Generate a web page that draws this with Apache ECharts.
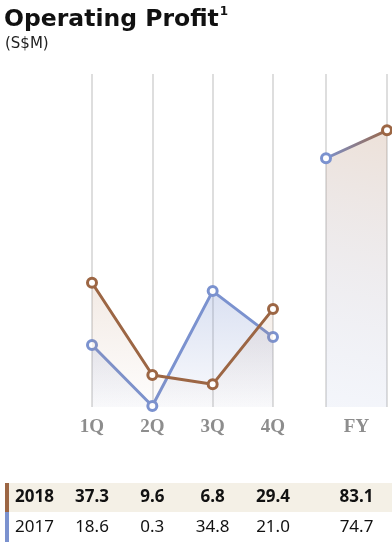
<!DOCTYPE html>
<html><head><meta charset="utf-8">
<script src="https://cdn.jsdelivr.net/npm/echarts@6/dist/echarts.min.js"></script>
<style>html,body{margin:0;padding:0;background:#fff}#c{width:392px;height:542px}</style>
</head><body><div id="c"></div>
<script>
// ---- data ----
const quarters = ['1Q', '2Q', '3Q', '4Q'];
const fyYears = ['2017', '2018'];
const fyLabel = ['FY'];
const profit2018 = [37.3, 9.6, 6.8, 29.4];
const profit2017 = [18.6, 0.3, 34.8, 21.0];
const fyProfit = [74.7, 83.1]; // FY2017, FY2018
const rowLabels = ['2018', '2017'];

const BROWN = '#9c6644';
const BLUE = '#7b92cf';
const GRID = '#d3d3d3';

const chart = echarts.init(document.getElementById('c'), null, {renderer: 'canvas'});

const axisLabelStyle = {
  fontFamily: '"Liberation Serif", "DejaVu Serif", serif',
  fontWeight: 'bold', fontSize: 19, color: '#8d8d8d', margin: 11
};

function marker(color) {
  return {color: '#fff', borderColor: color, borderWidth: 3};
}

const option = {
  animation: false,
  backgroundColor: '#fff',
  grid: [
    {left: 92, width: 181, top: 74, bottom: 135},
    {left: 326, width: 61, top: 74, bottom: 135}
  ],
  xAxis: [
    {type: 'category', gridIndex: 0, data: quarters, boundaryGap: false, position: 'bottom',
      axisLine: {show: false}, axisTick: {show: false},
      axisLabel: axisLabelStyle,
      splitLine: {show: true, lineStyle: {color: GRID, width: 1.5}}},
    {type: 'category', gridIndex: 1, data: fyYears, boundaryGap: false, position: 'bottom',
      axisLine: {show: false}, axisTick: {show: false}, axisLabel: {show: false},
      splitLine: {show: true, lineStyle: {color: GRID, width: 1.5}}},
    {type: 'category', gridIndex: 1, data: fyLabel, boundaryGap: true, position: 'bottom', offset: 0,
      axisLine: {show: false}, axisTick: {show: false},
      axisLabel: axisLabelStyle, splitLine: {show: false}}
  ],
  yAxis: [
    {type: 'value', gridIndex: 0, min: 0, max: 100, show: false},
    {type: 'value', gridIndex: 1, min: 0, max: 100, show: false}
  ],
  series: [
    {name: '2017', type: 'line', xAxisIndex: 0, yAxisIndex: 0, data: profit2017,
      symbol: 'circle', symbolSize: 9, z: 3,
      lineStyle: {color: BLUE, width: 3}, itemStyle: marker(BLUE),
      areaStyle: {color: {type: 'linear', x: 0, y: 0, x2: 0, y2: 1, colorStops: [
        {offset: 0, color: 'rgba(123,146,207,0.40)'},
        {offset: 1, color: 'rgba(123,146,207,0.06)'}]}}},
    {name: '2018', type: 'line', xAxisIndex: 0, yAxisIndex: 0, data: profit2018,
      symbol: 'circle', symbolSize: 9, z: 4,
      lineStyle: {color: BROWN, width: 3}, itemStyle: marker(BROWN),
      areaStyle: {color: {type: 'linear', x: 0, y: 0, x2: 0, y2: 1, colorStops: [
        {offset: 0, color: 'rgba(180,130,95,0.24)'},
        {offset: 1, color: 'rgba(180,130,95,0.02)'}]}}},
    {name: 'FY', type: 'line', xAxisIndex: 1, yAxisIndex: 1,
      data: [
        {value: fyProfit[0], itemStyle: marker(BLUE)},
        {value: fyProfit[1], itemStyle: marker(BROWN)}
      ],
      symbol: 'circle', symbolSize: 9, z: 4,
      lineStyle: {width: 3, color: {type: 'linear', x: 0, y: 0, x2: 1, y2: 0, colorStops: [
        {offset: 0, color: BLUE}, {offset: 1, color: BROWN}]}},
      areaStyle: {color: {type: 'linear', x: 0, y: 1, x2: 1, y2: 0, colorStops: [
        {offset: 0, color: 'rgba(123,146,207,0.12)'},
        {offset: 1, color: 'rgba(180,130,95,0.34)'}]}}}
  ]
};
chart.setOption(option);

// ---- table + title via graphic, columns located through the axes ----
const colX = quarters.map(q => chart.convertToPixel({xAxisIndex: 0}, q));
const fyX = (chart.convertToPixel({xAxisIndex: 1}, fyYears[0]) + chart.convertToPixel({xAxisIndex: 1}, fyYears[1])) / 2;

const rows = [
  {label: rowLabels[0], q: profit2018, fy: fyProfit[1], color: BROWN, bold: true, bg: '#f4f0e6'},
  {label: rowLabels[1], q: profit2017, fy: fyProfit[0], color: BLUE, bold: false, bg: null}
];
const rowTop = [483, 512];
const rowH = [29, 30];
const textFont = '"Noto Sans", "Open Sans", sans-serif';
const titleFont = '"DejaVu Sans", "Noto Sans", sans-serif';

const graphics = [
  {type: 'text', left: 4, top: 6, style: {
    text: '{t|Operating Profit}{s|1}',
    rich: {
      t: {fontFamily: titleFont, fontWeight: 'bold', fontSize: 23.5, fill: '#111', lineHeight: 28},
      s: {fontFamily: titleFont, fontWeight: 'bold', fontSize: 12, fill: '#111', verticalAlign: 'top', lineHeight: 28, padding: [0, 0, 10, 1]}
    }}},
  {type: 'text', left: 5, top: 37, style: {text: '(S$M)', fontFamily: titleFont, fontSize: 15, fill: '#222'}}
];
rows.forEach((r, i) => {
  const cy = rowTop[i] + rowH[i] / 2;
  if (r.bg) graphics.push({type: 'rect', shape: {x: 9, y: rowTop[i], width: 383, height: rowH[i]}, style: {fill: r.bg}});
  graphics.push({type: 'rect', shape: {x: 5, y: rowTop[i], width: 4, height: rowH[i]}, style: {fill: r.color}});
  const st = {fontFamily: textFont, fontSize: 17, fontWeight: r.bold ? 'bold' : 'normal', fill: '#111', verticalAlign: 'middle'};
  graphics.push({type: 'text', x: 15, y: cy, style: Object.assign({}, st, {text: r.label, align: 'left'})});
  r.q.forEach((v, j) => {
    graphics.push({type: 'text', x: colX[j], y: cy, style: Object.assign({}, st, {text: v.toFixed(1), align: 'center'})});
  });
  graphics.push({type: 'text', x: fyX, y: cy, style: Object.assign({}, st, {text: r.fy.toFixed(1), align: 'center'})});
});
chart.setOption({graphic: graphics});
</script>
</body></html>
